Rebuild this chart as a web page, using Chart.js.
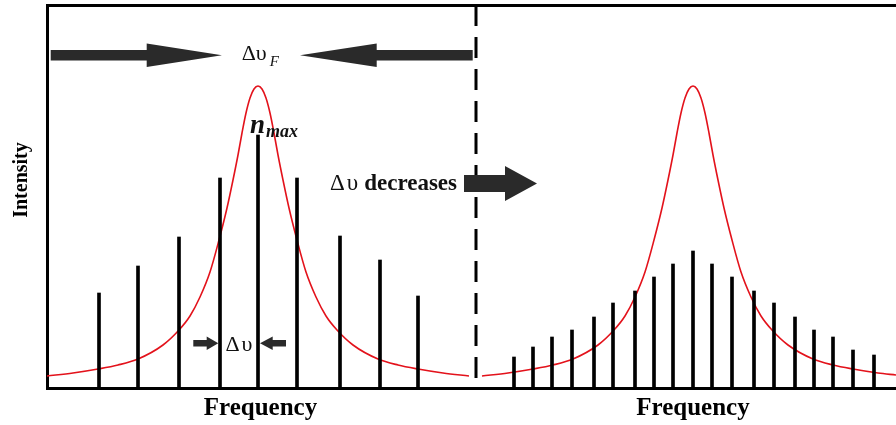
<!DOCTYPE html>
<html>
<head>
<meta charset="utf-8">
<script src="https://cdn.jsdelivr.net/npm/chart.js@4/dist/chart.umd.min.js"></script>
<style>
html,body{margin:0;padding:0;background:#fff;}
canvas{display:block;}
</style>
</head>
<body>
<canvas id="c" width="896" height="425"></canvas>
<script>
// ---- data (arbitrary frequency / intensity units) ----
const leftBarFreq = [52, 91, 132, 173, 211, 250, 293, 333, 371];
const leftBarIntensity = [95, 122, 151, 210, 253, 210, 152, 128, 92];

const rightBarFreq = [467, 486, 505, 525, 547, 566, 588, 607, 626, 646, 665, 685, 707, 727, 748, 767, 786, 806, 827];
const rightBarIntensity = [31, 41, 51, 58, 71, 85, 97, 111, 124, 137, 124, 111, 97, 85, 71, 58, 51, 38, 33];

const leftCurveFreq = [0, 26, 51, 71, 91, 116, 132, 143, 153, 163, 172, 180, 186, 191, 195, 199, 203, 207, 211,
  215, 219, 223, 227, 231, 236, 242, 250, 259, 269, 279, 290, 306, 331, 351, 371, 396, 422];
const leftCurveIntensity = [12, 15, 19, 23, 29, 43, 58, 72, 91, 116, 148, 180, 208, 233, 255, 275, 290, 299, 302,
  299, 290, 275, 255, 233, 208, 180, 148, 116, 91, 72, 58, 43, 29, 23, 19, 15, 12];

const rightCurveFreq = [435, 461, 486, 506, 526, 551, 567, 578, 588, 598, 607, 615, 621, 626, 630, 634, 638, 642, 646,
  650, 654, 658, 662, 666, 671, 677, 685, 694, 704, 714, 725, 741, 766, 786, 806, 831, 849];
const rightCurveIntensity = [12, 15, 19, 23, 29, 43, 58, 72, 91, 116, 148, 180, 208, 233, 255, 275, 290, 299, 302,
  299, 290, 275, 255, 233, 208, 180, 148, 116, 91, 72, 58, 43, 29, 23, 19, 15, 13];

const dividerFreq = 429;
const freqRange = [0, 849];
const intensityRange = [0, 383];

const xyPairs = (xs, ys) => xs.map((v, i) => ({x: v, y: ys[i]}));

// ---- annotation layout (data units) ----
const annot = {
  topArrowY: 332.7,
  topLeftArrow: {tail: 3.7, base: 99.7, tip: 175},
  topRightArrow: {tail: 425.7, base: 329.7, tip: 253},
  dvF: {x: 194.7, y: 328},
  nmax: {x: 203, y: 255},
  decArrow: {tail: 417, base: 458, tip: 490, y: 204.5},
  decText: {x: 410, y: 198},
  smallArrowY: 44.7,
  smallLeft: {tail: 146.3, base: 159.7, tip: 171.3},
  smallRight: {tail: 239, base: 225.7, tip: 213},
  smallText: {x: 192, y: 37},
  freqLabels: [213.5, 646],
  freqLabelY: -27,
  intensityLabel: {x: -25, y: 208}
};

const SERIF = '"Liberation Serif", "Times New Roman", serif';
const ARROW = '#2a2a2a';

const annotationPlugin = {
  id: 'annotations',
  afterDatasetsDraw(chart) {
    const {ctx, scales: {x, y}} = chart;
    const X = v => x.getPixelForValue(v);
    const Y = v => y.getPixelForValue(v);
    ctx.save();
    ctx.fillStyle = ARROW;
    function arrow(a, yc, sh, hh) {
      const p0 = X(a.tail), pb = X(a.base), pt = X(a.tip), py = Y(yc);
      ctx.beginPath();
      ctx.moveTo(p0, py - sh);
      ctx.lineTo(pb, py - sh);
      ctx.lineTo(pb, py - hh);
      ctx.lineTo(pt, py);
      ctx.lineTo(pb, py + hh);
      ctx.lineTo(pb, py + sh);
      ctx.lineTo(p0, py + sh);
      ctx.closePath();
      ctx.fill();
    }
    arrow(annot.topLeftArrow, annot.topArrowY, 5.3, 11.7);
    arrow(annot.topRightArrow, annot.topArrowY, 5.3, 11.7);
    arrow(annot.decArrow, annot.decArrow.y, 8.5, 17.5);
    arrow(annot.smallLeft, annot.smallArrowY, 3.3, 6.7);
    arrow(annot.smallRight, annot.smallArrowY, 3.3, 6.7);

    ctx.fillStyle = '#111';
    ctx.textBaseline = 'alphabetic';
    // Δυ_F
    ctx.textAlign = 'left';
    ctx.font = '22px ' + SERIF;
    let px = X(annot.dvF.x), py = Y(annot.dvF.y);
    ctx.fillText('Δυ', px, py);
    let w = ctx.measureText('Δυ').width;
    ctx.font = 'italic 15px ' + SERIF;
    ctx.fillText('F', px + w + 3, py + 6);

    // n_max
    px = X(annot.nmax.x); py = Y(annot.nmax.y);
    ctx.font = 'italic bold 27px ' + SERIF;
    ctx.fillText('n', px, py);
    w = ctx.measureText('n').width;
    ctx.font = 'italic bold 18px ' + SERIF;
    ctx.fillText('max', px + w + 1, py + 4);

    // Δυ decreases
    ctx.textAlign = 'right';
    px = X(annot.decText.x); py = Y(annot.decText.y);
    ctx.font = 'bold 23px ' + SERIF;
    ctx.fillText('decreases', px, py);
    w = ctx.measureText('decreases').width;
    ctx.font = '23px ' + SERIF;
    ctx.fillText('Δ\u200Aυ', px - w - 6, py);

    // small Δυ
    ctx.textAlign = 'center';
    ctx.font = '22px ' + SERIF;
    ctx.fillText('Δ\u200Aυ', X(annot.smallText.x), Y(annot.smallText.y));

    // axis titles
    ctx.fillStyle = '#000';
    ctx.font = 'bold 25px ' + SERIF;
    annot.freqLabels.forEach(f => ctx.fillText('Frequency', X(f), Y(annot.freqLabelY)));

    ctx.save();
    ctx.translate(X(annot.intensityLabel.x), Y(annot.intensityLabel.y));
    ctx.rotate(-Math.PI / 2);
    ctx.font = 'bold 20px ' + SERIF;
    ctx.textBaseline = 'middle';
    ctx.fillText('Intensity', 0, 0);
    ctx.restore();

    ctx.restore();
  }
};

const noTicks = {display: false};
const noGrid = {display: false, drawTicks: false};

new Chart(document.getElementById('c'), {
  type: 'bar',
  data: {
    datasets: [
      {
        type: 'bar', label: 'left modes', data: xyPairs(leftBarFreq, leftBarIntensity),
        backgroundColor: '#000', barThickness: 3, grouped: false, order: 1
      },
      {
        type: 'bar', label: 'right modes', data: xyPairs(rightBarFreq, rightBarIntensity),
        backgroundColor: '#000', barThickness: 3, grouped: false, order: 1
      },
      {
        type: 'line', label: 'left gain', data: xyPairs(leftCurveFreq, leftCurveIntensity),
        borderColor: '#e3121b', borderWidth: 1.6, pointRadius: 0, cubicInterpolationMode: 'monotone', fill: false, order: 2
      },
      {
        type: 'line', label: 'right gain', data: xyPairs(rightCurveFreq, rightCurveIntensity),
        borderColor: '#e3121b', borderWidth: 1.6, pointRadius: 0, cubicInterpolationMode: 'monotone', fill: false, order: 2
      },
      {
        type: 'line', label: 'divider', data: [{x: dividerFreq, y: intensityRange[1]}, {x: dividerFreq, y: intensityRange[0]}],
        borderColor: '#000', borderWidth: 3, borderDash: [21, 11], pointRadius: 0, tension: 0, fill: false, order: 0
      }
    ]
  },
  options: {
    responsive: false,
    animation: false,
    devicePixelRatio: 1,
    layout: {padding: {left: 47, right: 0, top: 5, bottom: 37}},
    plugins: {legend: {display: false}, tooltip: {enabled: false}},
    scales: {
      x: {
        type: 'linear', position: 'bottom', min: freqRange[0], max: freqRange[1], offset: false,
        grid: noGrid, ticks: noTicks, border: {display: true, width: 3, color: '#000'}
      },
      xTop: {
        type: 'linear', position: 'top', min: freqRange[0], max: freqRange[1], offset: false,
        grid: noGrid, ticks: noTicks, border: {display: true, width: 3, color: '#000'}
      },
      y: {
        type: 'linear', min: intensityRange[0], max: intensityRange[1],
        grid: noGrid, ticks: noTicks, border: {display: true, width: 3, color: '#000'}
      }
    }
  },
  plugins: [annotationPlugin]
});
</script>
</body>
</html>
